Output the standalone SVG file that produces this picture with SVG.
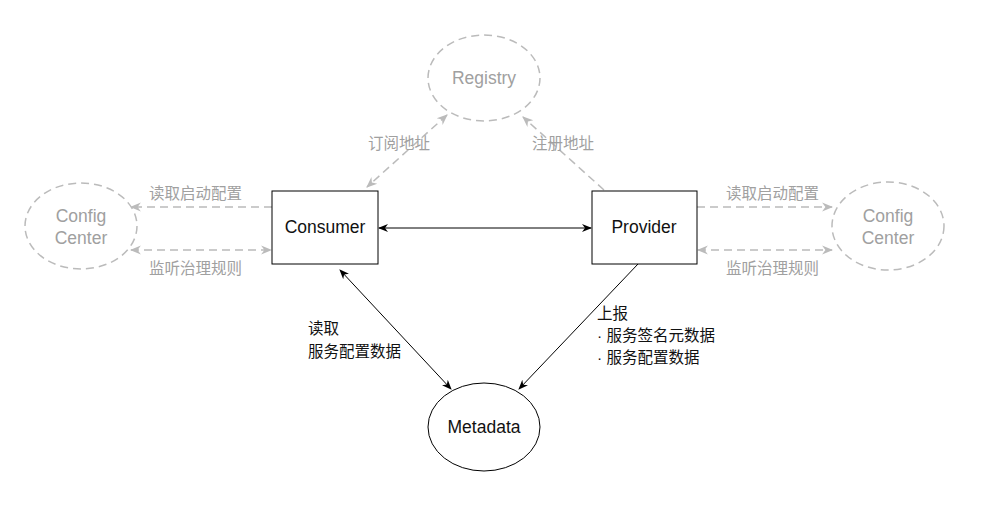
<svg xmlns="http://www.w3.org/2000/svg" width="991" height="514" viewBox="0 0 991 514">
<defs>
<marker id="ab" viewBox="0 0 10 10" refX="9" refY="5" markerWidth="10" markerHeight="10" markerUnits="userSpaceOnUse" orient="auto-start-reverse"><path d="M0,1 L10,5 L0,9 L3,5 Z" fill="#000"/></marker>
<marker id="ag" viewBox="0 0 10 10" refX="9" refY="5" markerWidth="11" markerHeight="11" markerUnits="userSpaceOnUse" orient="auto-start-reverse"><path d="M0,1 L10,5 L0,9 L3,5 Z" fill="#bbb"/></marker>
</defs>
<style>
.lat{font-family:"Liberation Sans",Arial,sans-serif;font-size:17.5px;text-anchor:middle;dominant-baseline:central}
.cjk{font-family:"Liberation Sans","Noto Sans CJK SC",sans-serif;font-size:15.5px;dominant-baseline:central}
.g{fill:#a0a0a0}
.b{fill:#111}
.gs{fill:#fff;stroke:#bbb;stroke-width:1.5;stroke-dasharray:8 5}
.bs{fill:#fff;stroke:#000;stroke-width:1}
.gl{stroke:#bbb;stroke-width:1.5;stroke-dasharray:8 5;fill:none}
.bl{stroke:#000;stroke-width:1;fill:none}
</style>
<rect width="991" height="514" fill="#fff"/>
<g id="connectors">
<line class="gl" x1="447" y1="115" x2="367" y2="187" marker-start="url(#ag)" marker-end="url(#ag)"/>
<line class="gl" x1="604" y1="190" x2="523" y2="117" marker-end="url(#ag)"/>
<line class="gl" x1="272" y1="207" x2="131" y2="207" marker-end="url(#ag)"/>
<line class="gl" x1="131" y1="250" x2="271" y2="250" marker-start="url(#ag)" marker-end="url(#ag)"/>
<line class="gl" x1="697" y1="207" x2="832" y2="207" marker-end="url(#ag)"/>
<line class="gl" x1="698" y1="250" x2="832" y2="250" marker-start="url(#ag)" marker-end="url(#ag)"/>
<line class="bl" x1="379" y1="228" x2="591" y2="228" marker-start="url(#ab)" marker-end="url(#ab)"/>
<line class="bl" x1="340" y1="270" x2="451" y2="389" marker-start="url(#ab)" marker-end="url(#ab)"/>
<line class="bl" x1="638" y1="264" x2="519" y2="389" marker-end="url(#ab)"/>
<text class="cjk g" x="368" y="143">订阅地址</text>
<text class="cjk g" x="532" y="143">注册地址</text>
<text class="cjk g" x="149" y="193">读取启动配置</text>
<text class="cjk g" x="149" y="268">监听治理规则</text>
<text class="cjk g" x="726" y="193">读取启动配置</text>
<text class="cjk g" x="726" y="268">监听治理规则</text>
<text class="cjk b" x="308" y="328">读取</text>
<text class="cjk b" x="308" y="351">服务配置数据</text>
<text class="cjk b" x="597" y="313">上报</text>
<text class="cjk b" x="597" y="335">· 服务签名元数据</text>
<text class="cjk b" x="597" y="357">· 服务配置数据</text>
</g>
<g id="registry"><ellipse class="gs" cx="484" cy="78" rx="56" ry="43"/><text class="lat g" x="484" y="78">Registry</text></g>
<g id="consumer"><rect class="bs" x="272" y="191" width="106" height="73"/><text class="lat b" x="325" y="227">Consumer</text></g>
<g id="provider"><rect class="bs" x="592" y="191" width="105" height="73"/><text class="lat b" x="644" y="227">Provider</text></g>
<g id="config-left"><ellipse class="gs" cx="81" cy="226" rx="56" ry="43"/><text class="lat g" x="81" y="216">Config</text><text class="lat g" x="81" y="238">Center</text></g>
<g id="config-right"><ellipse class="gs" cx="888" cy="226" rx="56" ry="44"/><text class="lat g" x="888" y="216">Config</text><text class="lat g" x="888" y="238">Center</text></g>
<g id="metadata"><ellipse class="bs" cx="484" cy="427" rx="56" ry="44"/><text class="lat b" x="484" y="427">Metadata</text></g>
</svg>
